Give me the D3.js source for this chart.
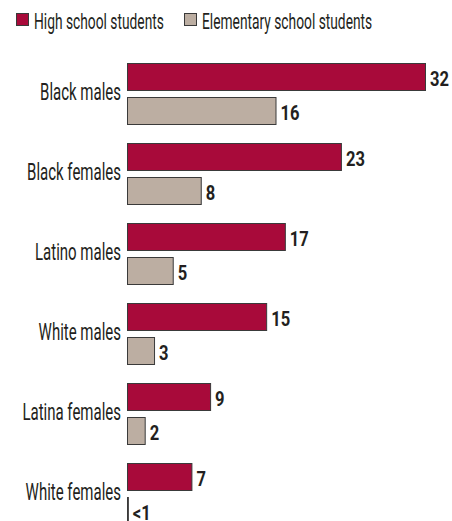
<!DOCTYPE html>
<html>
<head>
<meta charset="utf-8">
<script src="https://cdn.jsdelivr.net/npm/d3@7"></script>
<style>
  html, body { margin: 0; padding: 0; background: #fff; }
  svg { display: block; }
  text { font-family: Roboto, "Noto Sans", sans-serif; fill: #231f20; }
</style>
</head>
<body>
<svg id="chart" width="452" height="521"></svg>
<script>
const categories = ["Black males", "Black females", "Latino males", "White males", "Latina females", "White females"];
const seriesNames = ["High school students", "Elementary school students"];
const highSchool = [32, 23, 17, 15, 9, 7];
const elementary = [16, 8, 5, 3, 2, 0.2];
const highSchoolLabels = ["32", "23", "17", "15", "9", "7"];
const elementaryLabels = ["16", "8", "5", "3", "2", "<1"];

const colors = ["#a80a3a", "#bcaea2"];
const strokeColor = "#3a3a3a";
const svg = d3.select("#chart");

const x = d3.scaleLinear().domain([0, 32]).range([127, 426]);
const y = d3.scaleBand().domain(categories).range([63, 525]).paddingInner(0.225).paddingOuter(0);
const ySub = d3.scaleBand().domain(seriesNames).range([0, y.bandwidth()]).paddingInner(6 / 34);

// horizontal condensing factors (to imitate a condensed typeface)
function measure(str, size, weight) {
  const t = svg.append("text").attr("font-size", size).attr("font-weight", weight).text(str);
  const w = t.node().getComputedTextLength();
  t.remove();
  return w;
}
const catSize = 23.5, legSize = 21.5, valSize = 21;
const kCat = 81 / measure("Black males", catSize, "normal");
const kLeg = 130 / measure("High school students", legSize, "normal");
const kVal = 19 / measure("32", valSize, "bold");

function place(sel, fx, fy, k) {
  sel.attr("transform", (d, i) => `translate(${fx(d, i)},${fy(d, i)}) scale(${k},1)`);
}

const rows = categories.map((c, i) => ({
  cat: c,
  vals: [
    { s: seriesNames[0], v: highSchool[i], label: highSchoolLabels[i] },
    { s: seriesNames[1], v: elementary[i], label: elementaryLabels[i] }
  ]
}));

// legend
const legendX = [16, 184];
const legend = svg.append("g").selectAll("g").data(seriesNames).join("g");
legend.append("rect")
  .attr("x", (d, i) => legendX[i] + 0.5).attr("y", 13.5)
  .attr("width", 12).attr("height", 12)
  .attr("fill", (d, i) => colors[i]).attr("stroke", strokeColor).attr("stroke-width", 1);
legend.append("text")
  .attr("font-size", legSize)
  .text(d => d)
  .call(place, (d, i) => legendX[i] + 18, () => 28.5, kLeg);

const groups = svg.append("g").selectAll("g.grp").data(rows).join("g")
  .attr("class", "grp")
  .attr("transform", d => `translate(0,${y(d.cat)})`);

groups.append("text")
  .attr("text-anchor", "end")
  .attr("font-size", catSize)
  .text(d => d.cat)
  .call(place, () => 121, () => y.bandwidth() / 2 + 5.5, kCat);

groups.selectAll("rect").data(d => d.vals).join("rect")
  .attr("x", x(0) + 0.5)
  .attr("y", d => ySub(d.s) + 0.5)
  .attr("width", d => Math.max(x(d.v) - x(0) - 1, 0.8))
  .attr("height", ySub.bandwidth() - 1)
  .attr("fill", (d, i) => colors[i])
  .attr("stroke", strokeColor)
  .attr("stroke-width", 1);

groups.selectAll("text.val").data(d => d.vals).join("text")
  .attr("class", "val")
  .attr("font-size", valSize)
  .attr("font-weight", "bold")
  .text(d => d.label)
  .call(place, d => x(d.v) + 4, d => ySub(d.s) + ySub.bandwidth() / 2 + 9, kVal);
</script>
</body>
</html>
